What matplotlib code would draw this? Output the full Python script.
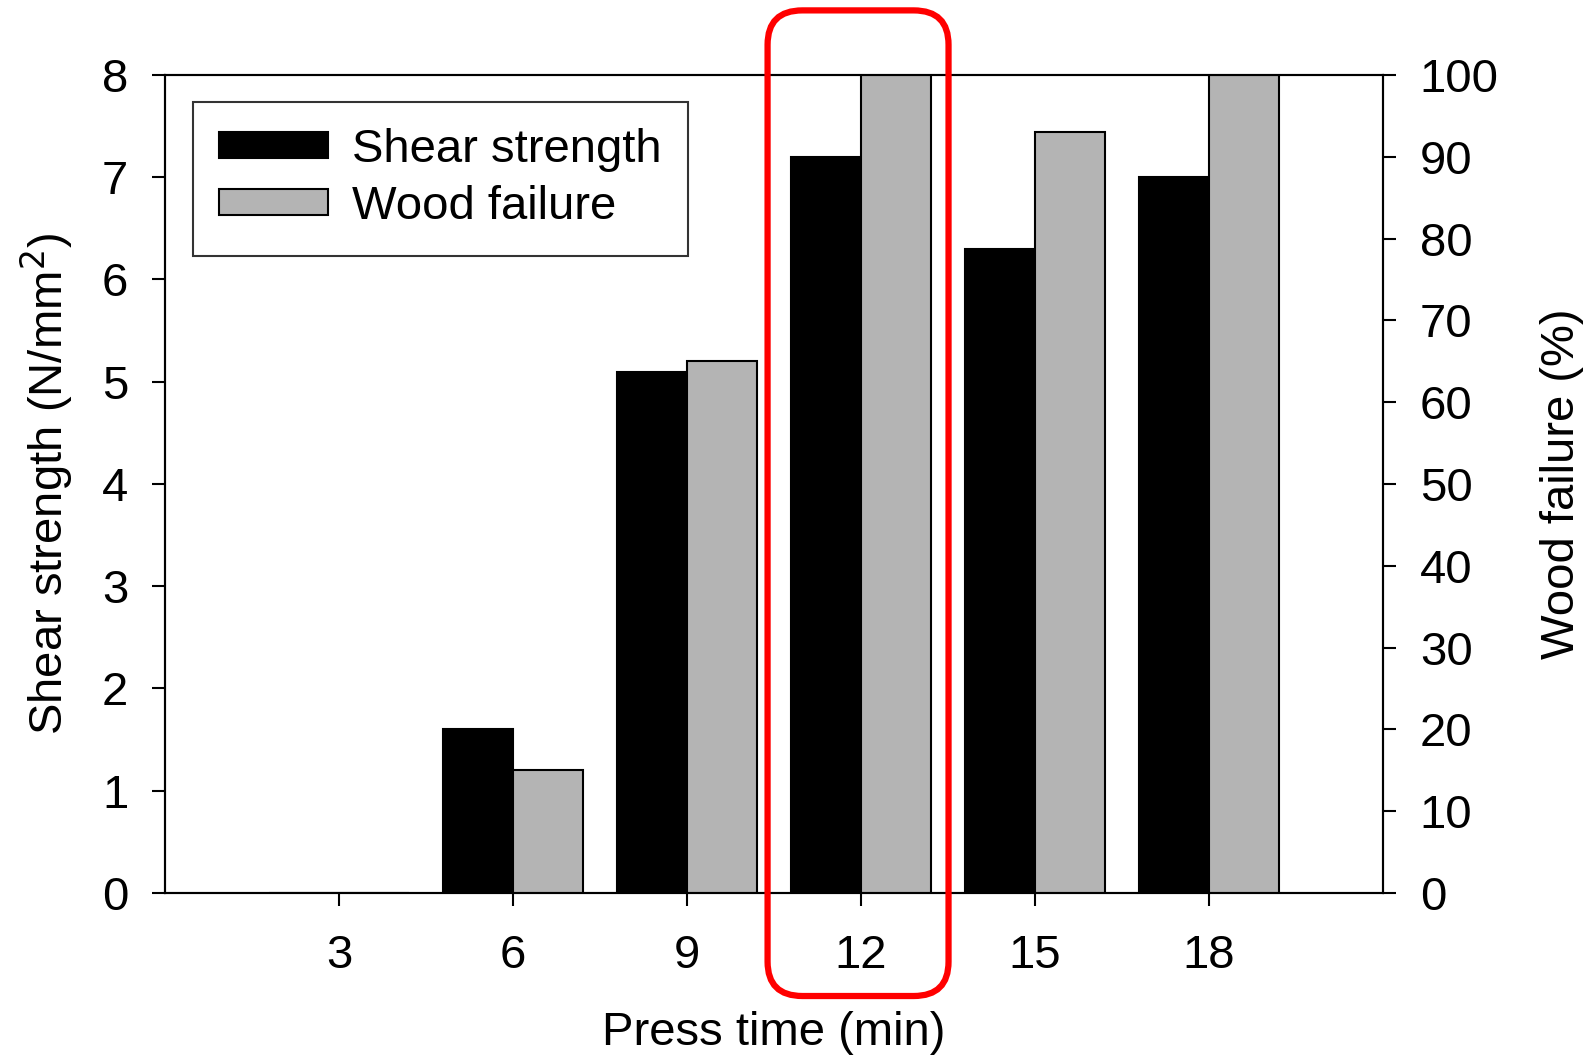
import numpy as np
import matplotlib.pyplot as plt
from matplotlib.patches import FancyBboxPatch, Patch
from matplotlib.transforms import blended_transform_factory

plt.rcParams['font.family'] = ['Liberation Sans', 'DejaVu Sans']

press_time = [3, 6, 9, 12, 15, 18]
shear_strength = [0.0, 1.6, 5.1, 7.2, 6.3, 7.0]      # N/mm2
wood_failure = [0.0, 15.0, 65.0, 100.0, 93.0, 100.0]  # %
highlight_time = 12

BAR_W = 1.2
FS = 34
LW = 1.5


def style_axis(ax):
    for s in ax.spines.values():
        s.set_linewidth(LW)
    ax.tick_params(direction='out', length=9.5, width=LW, labelsize=FS, pad=17)


def main():
    fig = plt.figure(figsize=(15.92, 10.55), dpi=100)
    ax = fig.add_axes([0.1036, 0.1536, 0.7651, 0.7753])
    ax2 = ax.twinx()

    x = np.array(press_time, dtype=float)
    ax.bar(x - BAR_W / 2, shear_strength, width=BAR_W, color='black',
           edgecolor='black', linewidth=LW)
    ax2.bar(x + BAR_W / 2, wood_failure, width=BAR_W, color='#b4b4b4',
            edgecolor='black', linewidth=LW)

    ax.set_xlim(0, 21)
    ax.set_ylim(0, 8)
    ax2.set_ylim(0, 100)
    ax.set_xticks(press_time)
    ax.set_yticks(range(0, 9))
    ax2.set_yticks(range(0, 101, 10))
    style_axis(ax)
    style_axis(ax2)
    ax.tick_params(axis='x', pad=20)

    ax.set_xlabel('Press time (min)', fontsize=FS, labelpad=24)
    ax.set_ylabel('Shear strength (N/mm$^2$)', fontsize=FS, labelpad=19)
    ax2.set_ylabel('Wood failure (%)', fontsize=FS, labelpad=30)

    handles = [Patch(facecolor='black', edgecolor='black', linewidth=LW),
               Patch(facecolor='#b4b4b4', edgecolor='black', linewidth=LW)]
    leg = ax2.legend(handles, ['Shear strength', 'Wood failure'],
                     loc='upper left', bbox_to_anchor=(0.023, 0.9676),
                     borderaxespad=0, fontsize=FS, fancybox=False,
                     frameon=True, handlelength=2.3, handleheight=0.47,
                     handletextpad=0.5, labelspacing=0.28, borderpad=0.56)
    leg.get_frame().set_edgecolor('black')
    leg.get_frame().set_linewidth(LW)

    # red rounded box around the 12 min group
    trans = blended_transform_factory(ax.transData, ax.transAxes)
    box = FancyBboxPatch((highlight_time - 1.61, -0.126), 3.12, 1.205,
                         boxstyle='round,pad=0,rounding_size=0.6',
                         mutation_aspect=0.07,
                         transform=trans, clip_on=False,
                         facecolor='none', edgecolor='#ff0000',
                         linewidth=4.5, zorder=10)
    ax2.add_patch(box)

    fig.savefig('out.png', dpi=100)


if __name__ == '__main__':
    main()
